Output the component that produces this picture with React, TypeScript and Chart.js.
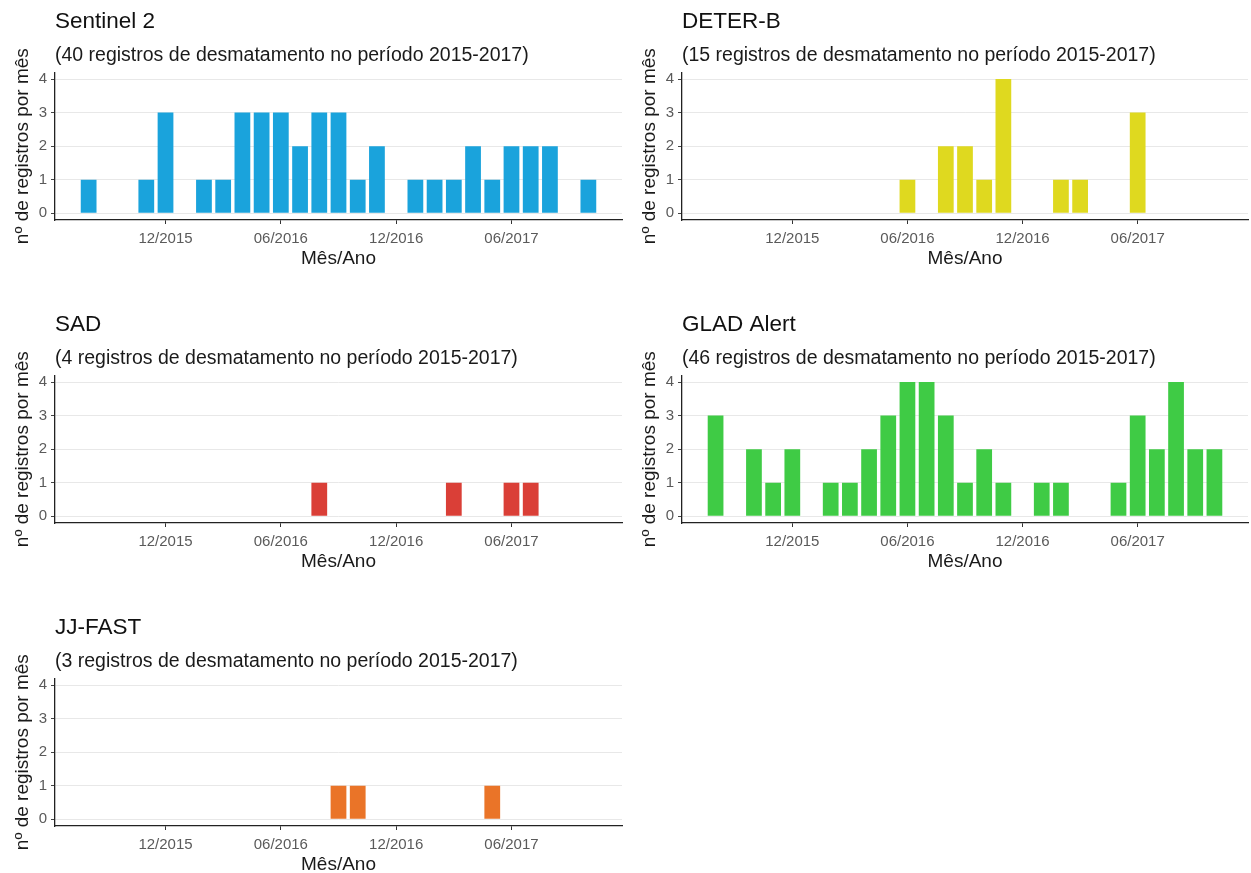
import React, { useEffect, useRef } from 'react';
import { Chart, registerables } from 'chart.js';

Chart.register(...registerables);
Chart.defaults.font.family = "'Liberation Sans', Arial, Helvetica, sans-serif";

// ---- data (month "YYYY-MM" -> number of records) ----
const sentinelMonths = ['2015-08', '2015-11', '2015-12', '2016-02', '2016-03', '2016-04', '2016-05', '2016-06', '2016-07', '2016-08', '2016-09', '2016-10', '2016-11', '2017-01', '2017-02', '2017-03', '2017-04', '2017-05', '2017-06', '2017-07', '2017-08', '2017-10'];
const sentinelCounts = [1, 1, 3, 1, 1, 3, 3, 3, 2, 3, 3, 1, 2, 1, 1, 1, 2, 1, 2, 2, 2, 1];

const deterMonths = ['2016-06', '2016-08', '2016-09', '2016-10', '2016-11', '2017-02', '2017-03', '2017-06'];
const deterCounts = [1, 2, 2, 1, 4, 1, 1, 3];

const sadMonths = ['2016-08', '2017-03', '2017-06', '2017-07'];
const sadCounts = [1, 1, 1, 1];

const gladMonths = ['2015-08', '2015-10', '2015-11', '2015-12', '2016-02', '2016-03', '2016-04', '2016-05', '2016-06', '2016-07', '2016-08', '2016-09', '2016-10', '2016-11', '2017-01', '2017-02', '2017-05', '2017-06', '2017-07', '2017-08', '2017-09', '2017-10'];
const gladCounts = [3, 2, 1, 2, 1, 1, 2, 3, 4, 4, 3, 1, 2, 1, 1, 1, 1, 3, 2, 4, 2, 2];

const jjMonths = ['2016-09', '2016-10', '2017-05'];
const jjCounts = [1, 1, 1];

const panelTitles = ['Sentinel 2', 'DETER-B', 'SAD', 'GLAD Alert', 'JJ-FAST'];
const panelTotals = [40, 15, 4, 46, 3];

const tickMonths = ['2015-12', '2016-06', '2016-12', '2017-06'];
const tickLabels = ['12/2015', '06/2016', '12/2016', '06/2017'];
const yTicks = [0, 1, 2, 3, 4];

const xTitle = 'Mês/Ano';
const yTitle = 'nº de registros por mês';

// ---- helpers ----
function monthIndex(m: string): number {
  const [y, mo] = m.split('-').map(Number);
  return (y - 2015) * 12 + (mo - 1);
}

const X_MIN = 5.25;
const X_MAX = 34.75;
const CANVAS_H = 303;

type PanelProps = {
  title: string;
  total: number;
  months: string[];
  counts: number[];
  color: string;
  left: number;
  top: number;
  width: number;
  height: number;
};

function Panel({ title, total, months, counts, color, left, top, width, height }: PanelProps) {
  const ref = useRef<HTMLCanvasElement>(null);

  useEffect(() => {
    const chart = new Chart(ref.current as HTMLCanvasElement, {
      type: 'bar',
      data: {
        datasets: [
          {
            data: months.map((m, i) => ({ x: monthIndex(m), y: counts[i] })),
            backgroundColor: color,
            borderWidth: 0,
            barPercentage: 0.82,
            categoryPercentage: 1,
          },
        ],
      },
      options: {
        responsive: false,
        animation: false,
        devicePixelRatio: 1,
        layout: { padding: { left: 0, right: 3, top: 0, bottom: 0 } },
        plugins: {
          legend: { display: false },
          tooltip: { enabled: false },
          title: {
            display: true,
            text: title,
            align: 'start',
            fullSize: false,
            color: '#111',
            font: { size: 22.5, weight: 'normal' },
            padding: { top: 8, bottom: 0 },
          },
          subtitle: {
            display: true,
            text: `(${total} registros de desmatamento no período 2015-2017)`,
            align: 'start',
            fullSize: false,
            color: '#1a1a1a',
            font: { size: 19.5, weight: 'normal' },
            padding: { top: 8.6, bottom: 5.3 },
          },
        },
        scales: {
          x: {
            type: 'linear',
            min: X_MIN,
            max: X_MAX,
            offset: false,
            bounds: 'data',
            afterBuildTicks: (s: any) => {
              s.ticks = tickMonths.map((m) => ({ value: monthIndex(m) }));
            },
            afterFit: (s: any) => {
              s.height = 83;
            },
            ticks: {
              callback: (_v: any, i: number) => tickLabels[i],
              autoSkip: false,
              maxRotation: 0,
              font: { size: 15 },
              color: '#5a5a5a',
              padding: 6,
            },
            grid: {
              drawOnChartArea: false,
              drawTicks: true,
              tickLength: 4,
              tickColor: '#333',
              offset: false,
            },
            border: { display: true, color: '#222', width: 1.3 },
            title: {
              display: true,
              text: xTitle,
              color: '#1a1a1a',
              font: { size: 19 },
              padding: { top: 0, bottom: 33 },
            },
          },
          y: {
            type: 'linear',
            min: -0.2,
            max: 4.2,
            afterBuildTicks: (s: any) => {
              s.ticks = yTicks.map((v) => ({ value: v }));
            },
            afterFit: (s: any) => {
              s.width = 55;
            },
            ticks: { font: { size: 15 }, color: '#5a5a5a', padding: 4 },
            grid: { color: '#e8e8e8', lineWidth: 1, drawTicks: true, tickLength: 4, tickColor: '#444' },
            border: { display: true, color: '#222', width: 1.3 },
            title: {
              display: true,
              text: yTitle,
              color: '#1a1a1a',
              font: { size: 19 },
              padding: { top: 11.5, bottom: 0 },
            },
          },
        },
      } as any,
    });
    return () => chart.destroy();
  }, []);

  return (
    <div style={{ position: 'absolute', left, top, width, height, overflow: 'hidden' }}>
      <canvas ref={ref} width={width} height={CANVAS_H} style={{ display: 'block' }} />
    </div>
  );
}

export default function App() {
  const colors = ['#1aa3dc', '#dfd91f', '#da3f37', '#3fcb45', '#ea7428'];
  const monthsList = [sentinelMonths, deterMonths, sadMonths, gladMonths, jjMonths];
  const countsList = [sentinelCounts, deterCounts, sadCounts, gladCounts, jjCounts];
  const positions = [
    { left: 0, top: 0, width: 625, height: 303 },
    { left: 627, top: 0, width: 624, height: 303 },
    { left: 0, top: 303, width: 625, height: 303 },
    { left: 627, top: 303, width: 624, height: 303 },
    { left: 0, top: 606, width: 625, height: 267 },
  ];
  return (
    <div
      style={{
        position: 'fixed',
        left: 0,
        top: 0,
        width: 1251,
        height: 873,
        overflow: 'hidden',
        background: '#fff',
      }}
    >
      {panelTitles.map((t, i) => (
        <Panel
          key={t}
          title={t}
          total={panelTotals[i]}
          months={monthsList[i]}
          counts={countsList[i]}
          color={colors[i]}
          {...positions[i]}
        />
      ))}
    </div>
  );
}
